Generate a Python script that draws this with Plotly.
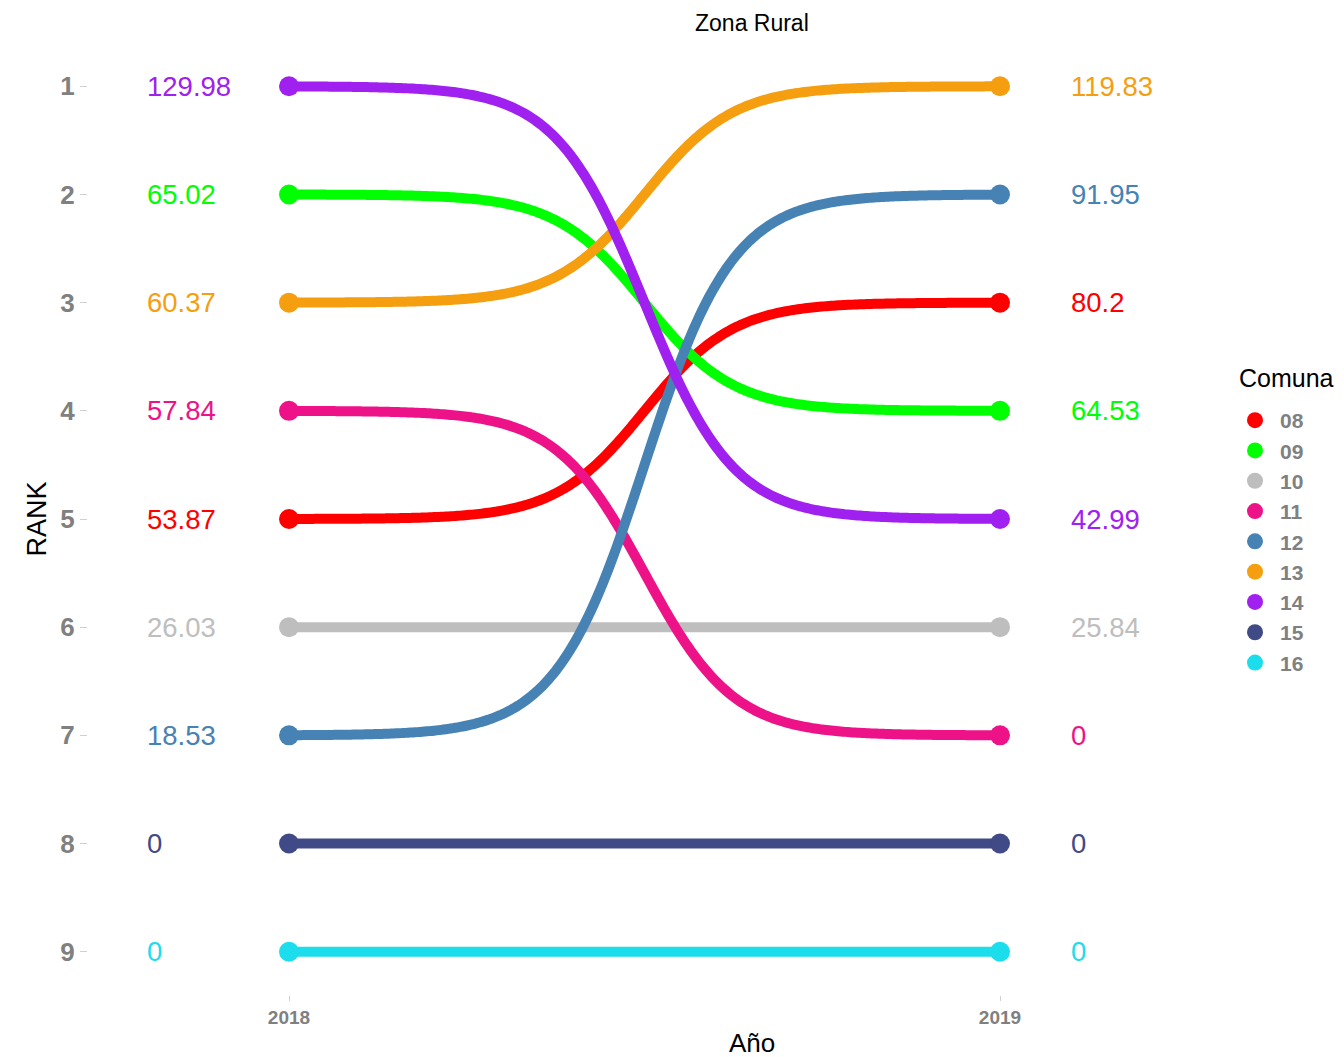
import numpy as np
import plotly.graph_objects as go

years = [2018, 2019]
comunas = ["08", "09", "10", "11", "12", "13", "14", "15", "16"]
colors = ["#FF0000", "#00FF00", "#BEBEBE", "#EE1289", "#4682B4",
          "#F59E0F", "#A020F0", "#404A86", "#1CDDEB"]
rank_2018 = [5, 2, 6, 4, 7, 3, 1, 8, 9]
rank_2019 = [3, 4, 6, 7, 2, 1, 5, 8, 9]
value_2018 = ["53.87", "65.02", "26.03", "57.84", "18.53", "60.37", "129.98", "0", "0"]
value_2019 = ["80.2", "64.53", "25.84", "0", "91.95", "119.83", "42.99", "0", "0"]

LABEL_X_LEFT = 2017.798
LABEL_X_RIGHT = 2019.097
SMOOTH = 8


def sigmoid(x_from, x_to, y_from, y_to, smooth=SMOOTH, n=300):
    t = np.linspace(-smooth, smooth, n)
    s = np.exp(t) / (np.exp(t) + 1)
    x = (t + smooth) / (smooth * 2) * (x_to - x_from) + x_from
    y = s * (y_to - y_from) + y_from
    return x, y


fig = go.Figure()

for i, c in enumerate(comunas):
    x, y = sigmoid(years[0], years[1], rank_2018[i], rank_2019[i])
    fig.add_trace(go.Scatter(x=x, y=y, mode="lines",
                             line=dict(color=colors[i], width=10, simplify=False),
                             showlegend=False, hoverinfo="skip"))

for i, c in enumerate(comunas):
    fig.add_trace(go.Scatter(x=years, y=[rank_2018[i], rank_2019[i]], mode="markers",
                             marker=dict(color=colors[i], size=20),
                             showlegend=False, name=c))

# legend entries
for i, c in enumerate(comunas):
    fig.add_trace(go.Scatter(x=[None], y=[None], mode="markers",
                             marker=dict(color=colors[i], size=16),
                             name="<b>%s</b>" % c, legendgroup=c, showlegend=True))

annotations = []
for i in range(len(comunas)):
    annotations.append(dict(x=LABEL_X_LEFT, y=rank_2018[i], xref="x", yref="y",
                            text=value_2018[i], showarrow=False, xanchor="left",
                            yanchor="middle",
                            font=dict(size=27.5, color=colors[i], family="Liberation Sans")))
    annotations.append(dict(x=LABEL_X_RIGHT, y=rank_2019[i], xref="x", yref="y",
                            text=value_2019[i], showarrow=False, xanchor="left",
                            yanchor="middle",
                            font=dict(size=27.5, color=colors[i], family="Liberation Sans")))

OFF = 8  # page body margin
W, H = 1344, 1057
# target pixel positions of plot area
PL, PR, PT, PB = 88, 1200, 43, 995
L = PL - OFF
T = PT - OFF
R = W - (PR - OFF)
B = H - (PB - OFF)


def px_x(p):
    return (p - PL) / (PR - PL)


def px_y(p):
    return (PB - p) / (PB - PT)


annotations.append(dict(x=px_x(752), y=px_y(OFF + 1), xref="paper", yref="paper",
                        text="Zona Rural", showarrow=False, xanchor="center", yanchor="top",
                        borderpad=0,
                        font=dict(size=23, color="black", family="Liberation Sans")))
annotations.append(dict(x=px_x(752), y=px_y(1043), xref="paper", yref="paper",
                        text="Año", showarrow=False, xanchor="center", yanchor="middle",
                        font=dict(size=26, color="black", family="Liberation Sans")))
annotations.append(dict(x=px_x(1237), y=px_y(378), xref="paper", yref="paper",
                        text="Comuna", showarrow=False, xanchor="left", yanchor="middle",
                        font=dict(size=25, color="black", family="Liberation Sans")))

fig.update_layout(
    width=W, height=H,
    margin=dict(l=L, r=R, t=T, b=B),
    paper_bgcolor="white", plot_bgcolor="white",
    font=dict(family="Liberation Sans"),
    annotations=annotations,
    legend=dict(
        font=dict(size=21, color="#808080", family="Liberation Sans"),
        x=px_x(1230), xanchor="left",
        y=px_y(400), yanchor="top",
        tracegroupgap=0,
        itemwidth=40,
    ),
    xaxis=dict(
        range=[2018 - (289 - PL) / 711, 2019 + (PR - 1000) / 711],
        tickvals=years, ticktext=["<b>%d</b>" % y for y in years],
        showgrid=False, zeroline=False, showline=False,
        ticks="outside", ticklen=5, tickcolor="#D0D0D0",
        tickfont=dict(size=19, color="#808080", family="Liberation Sans"),
        fixedrange=True,
    ),
    yaxis=dict(
        range=[9.4, 0.6],
        tickvals=list(range(1, 10)),
        ticktext=["<b>%d</b>" % r for r in range(1, 10)],
        showgrid=False, zeroline=False, showline=False,
        ticks="outside", ticklen=7, tickcolor="#D0D0D0",
        tickfont=dict(size=26, color="#808080", family="Liberation Sans"),
        title=dict(text="RANK", font=dict(size=27, color="black"), standoff=5),
        fixedrange=True,
    ),
)

fig.write_html("out.html")
